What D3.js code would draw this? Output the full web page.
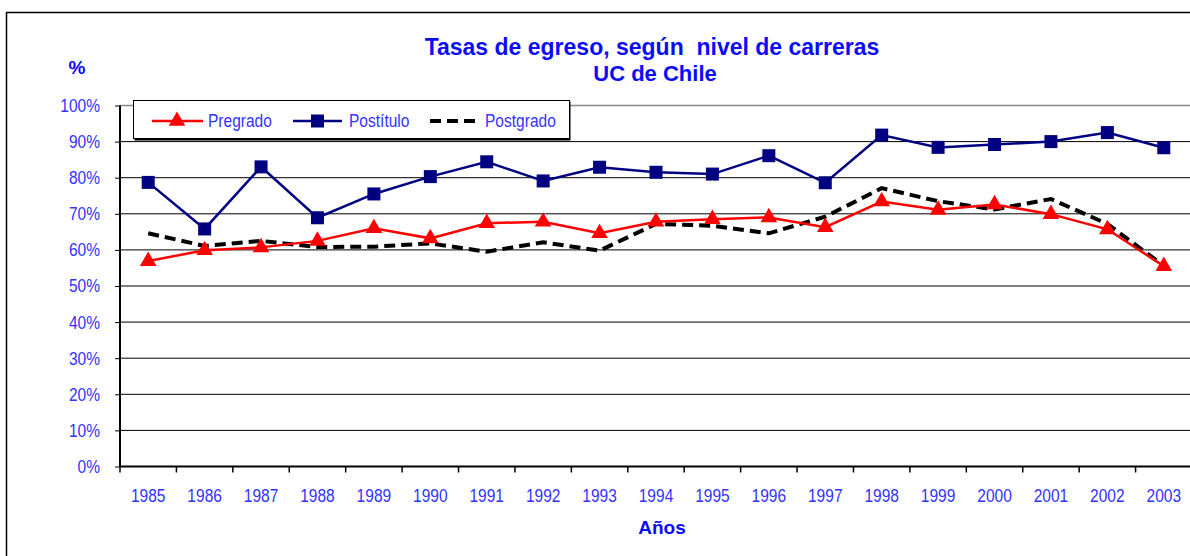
<!DOCTYPE html>
<html lang="es">
<head>
<meta charset="UTF-8">
<title>Tasas de egreso</title>
<script src="https://d3js.org/d3.v7.min.js"></script>
<style>
  body { margin:0; background:#fff; }
  .tick-label { font-family: "Liberation Sans Narrow", "Arial Narrow", "Liberation Sans", sans-serif; font-size:18.5px; fill:#3333ff; }
  .bold { font-family: "Liberation Sans", Arial, sans-serif; font-weight:bold; fill:#0a0aff; }
</style>
</head>
<body>
<script>
// data
var years = ["1985","1986","1987","1988","1989","1990","1991","1992","1993","1994","1995","1996","1997","1998","1999","2000","2001","2002","2003"];
var pregrado  = [56.9,59.9,60.7,62.5,66.0,63.2,67.4,67.8,64.6,67.8,68.5,69.0,66.3,73.4,71.1,72.6,69.9,65.7,55.5];
var postitulo = [78.7,65.8,83.0,68.9,75.5,80.3,84.4,79.1,82.9,81.5,81.0,86.1,78.6,91.8,88.4,89.2,90.0,92.5,88.3];
var postgrado = [64.6,61.1,62.5,60.8,60.9,61.8,59.5,62.1,59.8,67.2,66.7,64.6,69.2,77.1,73.5,71.2,74.1,67.2,55.6];
var yTicks = [0,10,20,30,40,50,60,70,80,90,100];

var W = 1190, H = 556;
var plotLeft = 120, plotTop = 105.5, plotRight = 1192, plotBottom = 466.5;
var narrow = 0.84;

var svg = d3.select("body").append("svg").attr("width", W).attr("height", H);

// outer frame
svg.append("rect").attr("x",6.5).attr("y",12.5).attr("width",1300).attr("height",700)
   .attr("fill","#fff").attr("stroke","#000").attr("stroke-width",1.5);

var x = d3.scaleBand().domain(years).range([plotLeft, plotRight]);
var y = d3.scaleLinear().domain([0,100]).range([plotBottom, plotTop]);

// gridlines
svg.append("g").selectAll("line").data(yTicks.filter(function(d){return d>0;})).enter().append("line")
   .attr("x1", plotLeft).attr("x2", plotRight)
   .attr("y1", function(d){return y(d);}).attr("y2", function(d){return y(d);})
   .attr("stroke", function(d){return d==100 ? "#888" : "#000";})
   .attr("stroke-width", function(d){return d==100 ? 1.5 : 1;});

// y axis
var yAxis = svg.append("g").attr("transform","translate("+plotLeft+",0)")
   .call(d3.axisLeft(y).tickValues(yTicks).tickFormat(function(d){return d+"%";}).tickSize(5).tickPadding(0));
yAxis.select(".domain").attr("stroke","#000").attr("stroke-width",2).attr("d","M0,"+plotTop+"V"+plotBottom);
yAxis.selectAll(".tick line").attr("stroke","#000");
yAxis.selectAll(".tick text").attr("class","tick-label").attr("font-family",null).attr("font-size",null).attr("fill",null)
   .attr("x",-20/narrow).attr("transform","scale("+narrow+",1)");

// x axis
var xAxis = svg.append("g").attr("transform","translate(0,"+plotBottom+")")
   .call(d3.axisBottom(x).tickSize(0).tickPadding(0));
xAxis.select(".domain").attr("stroke","#000").attr("stroke-width",2).attr("d","M"+plotLeft+",0H"+plotRight);
xAxis.selectAll(".tick text").attr("class","tick-label").attr("font-family",null).attr("font-size",null).attr("fill",null)
   .attr("dy",null).attr("y",36).attr("transform","scale("+narrow+",1)");
xAxis.selectAll(".sep").data(years).enter().append("line")
   .attr("x1", function(d){return x(d);}).attr("x2", function(d){return x(d);})
   .attr("y1",0).attr("y2",6).attr("stroke","#000").attr("stroke-width",1.5);

function cx(d,i){ return x(years[i]) + x.bandwidth()/2; }
var line = d3.line().x(cx).y(function(d){return y(d);});

// Postgrado dashed
svg.append("path").datum(postgrado).attr("d", line).attr("fill","none")
   .attr("stroke","#000").attr("stroke-width",4).attr("stroke-dasharray","11,6");

// Pregrado
svg.append("path").datum(pregrado).attr("d", line).attr("fill","none")
   .attr("stroke","#ff0000").attr("stroke-width",2.5);
var tri = d3.symbol().type(d3.symbolTriangle).size(120);
svg.append("g").selectAll("path").data(pregrado).enter().append("path")
   .attr("d", tri).attr("fill","#ff0000")
   .attr("transform", function(d,i){return "translate("+cx(d,i)+","+y(d)+")";});

// Postítulo
svg.append("path").datum(postitulo).attr("d", line).attr("fill","none")
   .attr("stroke","#000080").attr("stroke-width",2.5);
svg.append("g").selectAll("rect").data(postitulo).enter().append("rect")
   .attr("x", function(d,i){return cx(d,i)-6.5;}).attr("y", function(d){return y(d)-6.5;})
   .attr("width",13).attr("height",13).attr("fill","#000080");

// title
svg.append("text").attr("class","bold").attr("x",652).attr("y",55).attr("text-anchor","middle")
   .attr("font-size",23).style("white-space","pre").text("Tasas de egreso, según  nivel de carreras");
svg.append("text").attr("class","bold").attr("x",655).attr("y",81).attr("text-anchor","middle")
   .attr("font-size",22).text("UC de Chile");
svg.append("text").attr("class","bold").attr("x",77).attr("y",74).attr("text-anchor","middle")
   .attr("font-size",19).text("%");
svg.append("text").attr("class","bold").attr("x",662).attr("y",534).attr("text-anchor","middle")
   .attr("font-size",19).text("Años");

// legend
var lg = svg.append("g");
lg.append("rect").attr("x",134.5).attr("y",101.5).attr("width",436).attr("height",39).attr("fill","#000");
lg.append("rect").attr("x",133.5).attr("y",100.5).attr("width",436).attr("height",38)
  .attr("fill","#fff").attr("stroke","#000").attr("stroke-width",1);
var ly = 121;
function legendText(tx, label) {
  lg.append("text").attr("class","tick-label").attr("x",tx/narrow).attr("y",ly+6.5)
    .attr("transform","scale("+narrow+",1)").text(label);
}
lg.append("line").attr("x1",152).attr("x2",203).attr("y1",ly).attr("y2",ly).attr("stroke","#ff0000").attr("stroke-width",2.5);
lg.append("path").attr("d",tri).attr("fill","#ff0000").attr("transform","translate(177,"+ly+")");
legendText(208, "Pregrado");
lg.append("line").attr("x1",293).attr("x2",342).attr("y1",ly).attr("y2",ly).attr("stroke","#000080").attr("stroke-width",2.5);
lg.append("rect").attr("x",311).attr("y",ly-6.5).attr("width",13).attr("height",13).attr("fill","#000080");
legendText(349, "Postítulo");
lg.append("line").attr("x1",430).attr("x2",477).attr("y1",ly).attr("y2",ly).attr("stroke","#000").attr("stroke-width",4).attr("stroke-dasharray","11,6");
legendText(485, "Postgrado");
</script>
</body>
</html>
